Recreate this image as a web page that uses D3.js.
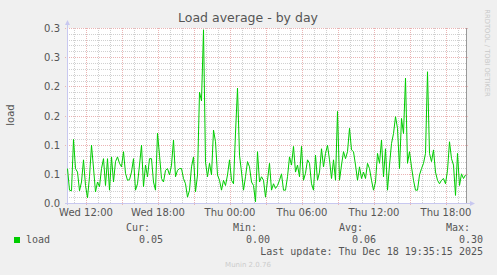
<!DOCTYPE html>
<html>
<head>
<meta charset="utf-8">
<script src="https://cdn.jsdelivr.net/npm/d3@7"></script>
<style>
body { margin: 0; background: #f0f0f0; }
svg text { font-family: "DejaVu Sans", sans-serif; }
.mono { font-family: "DejaVu Sans Mono", monospace !important; }
</style>
</head>
<body>
<div id="graph"></div>
<script>
// load average samples, one every 10 minutes starting Wed 17 Dec 10:25
var startTime = new Date(2025, 11, 17, 10, 25)
var stepMinutes = 10
var loadValues = [
    .059, .022, .021, .109, .059, .053, .021, .036, .074, .030,
    .009, .045, .099, .060, .019, .036, .028, .059, .076, .030,
    .076, .022, .079, .036, .071, .079, .068, .062, .088, .051,
    .039, .040, .053, .076, .022, .033, .065, .099, .028, .065,
    .045, .076, .076, .036, .022, .120, .082, .042, .036, .056,
    .059, .048, .065, .108, .045, .056, .059, .059, .042, .033,
    .010, .022, .062, .079, .019, .048, .190, .175, .297, .070,
    .045, .068, .048, .125, .105, .048, .039, .022, .039, .030,
    .048, .074, .039, .033, .120, .197, .082, .053, .022, .045,
    .071, .062, .036, .030, .002, .088, .036, .045, .039, .010,
    .039, .068, .022, .033, .025, .030, .039, .050, .022, .022,
    .045, .079, .065, .097, .053, .065, .045, .097, .039, .051,
    .074, .068, .033, .022, .082, .039, .053, .093, .062, .085,
    .099, .074, .042, .074, .039, .157, .039, .065, .088, .076,
    .088, .128, .091, .088, .065, .039, .062, .042, .053, .042,
    .068, .059, .039, .022, .036, .085, .068, .108, .045, .093,
    .022, .065, .102, .119, .148, .128, .059, .145, .119, .214,
    .068, .088, .062, .039, .022, .022, .048, .059, .068, .085,
    .225, .085, .071, .091, .053, .039, .033, .039, .042, .033,
    .056, .105, .076, .065, .013, .085, .030, .050, .042, .048
]

var yTickValues = [0, 0.05, 0.1, 0.15, 0.2, 0.25, 0.3]
var yTickLabels = ["0.0", "0.1", "0.1", "0.2", "0.2", "0.3", "0.3"]
var legendHeads = ["Cur:", "Min:", "Avg:", "Max:"]
var legendValues = ["0.05", "0.00", "0.06", "0.30"]
var lastUpdate = "Last update: Thu Dec 18 19:35:15 2025"

var plotLeft = 67, plotTop = 28, plotW = 400, plotH = 175
var endTime = d3.timeMinute.offset(startTime, 2000)

var x = d3.scaleTime().domain([startTime, endTime]).range([plotLeft, plotLeft + plotW])
var y = d3.scaleLinear().domain([0, 0.3]).range([plotTop + plotH, plotTop])

var svg = d3.select("#graph").append("svg").attr("width", 497).attr("height", 275)
svg.append("rect").attr("width", 497).attr("height", 275).attr("fill", "#f0f0f0")
svg.append("rect").attr("x", plotLeft).attr("y", plotTop).attr("width", 399).attr("height", plotH).attr("fill", "#fff")

// minor grid
var minorY = d3.range(0, 0.3001, 0.01)
svg.selectAll(".gy").data(minorY).enter().append("line")
    .attr("x1", plotLeft).attr("x2", plotLeft + 399)
    .attr("y1", d => Math.round(y(d)) + 0.5).attr("y2", d => Math.round(y(d)) + 0.5)
    .attr("stroke", "#d0d0d0").attr("stroke-dasharray", "1,1")
var minorX = d3.timeHour.range(startTime, endTime)
svg.selectAll(".gx").data(minorX).enter().append("line")
    .attr("x1", d => Math.round(x(d)) + 0.5).attr("x2", d => Math.round(x(d)) + 0.5)
    .attr("y1", plotTop).attr("y2", plotTop + plotH)
    .attr("stroke", "#d0d0d0").attr("stroke-dasharray", "1,1")

// major grid
svg.selectAll(".my").data(yTickValues).enter().append("line")
    .attr("x1", plotLeft - 2).attr("x2", plotLeft + 401)
    .attr("y1", d => Math.round(y(d)) + 0.5).attr("y2", d => Math.round(y(d)) + 0.5)
    .attr("stroke", "#eab4b4").attr("stroke-dasharray", "1,1")
var majorX = d3.timeHour.every(3).range(startTime, endTime)
svg.selectAll(".mx").data(majorX).enter().append("line")
    .attr("x1", d => Math.round(x(d)) + 0.5).attr("x2", d => Math.round(x(d)) + 0.5)
    .attr("y1", plotTop).attr("y2", plotTop + plotH + 2)
    .attr("stroke", "#eab4b4").attr("stroke-dasharray", "1,1")

// axes
var axisColor = "#c8c8f0"
svg.append("line").attr("x1", plotLeft + 0.5).attr("x2", plotLeft + 0.5).attr("y1", plotTop - 4).attr("y2", plotTop + plotH + 2)
    .attr("stroke", axisColor)
svg.append("path").attr("d", `M${plotLeft - 2},${plotTop - 3}L${plotLeft + 3},${plotTop - 3}L${plotLeft + 0.5},${plotTop - 8}Z`).attr("fill", axisColor)
svg.append("line").attr("x1", plotLeft - 2).attr("x2", plotLeft + 404).attr("y1", plotTop + plotH + 0.5).attr("y2", plotTop + plotH + 0.5)
    .attr("stroke", axisColor)
svg.append("path").attr("d", `M${plotLeft + 403},${plotTop + plotH - 2}L${plotLeft + 403},${plotTop + plotH + 3}L${plotLeft + 408},${plotTop + plotH + 0.5}Z`).attr("fill", axisColor)
svg.append("line").attr("x1", plotLeft + 399.5).attr("x2", plotLeft + 399.5).attr("y1", plotTop).attr("y2", plotTop + plotH)
    .attr("stroke", "#999")

// load line
var line = d3.line()
    .x((d, i) => x(d3.timeMinute.offset(startTime, i * stepMinutes)) + 0.5)
    .y(d => y(d))
svg.append("path").datum(loadValues).attr("d", line)
    .attr("fill", "none").attr("stroke", "#00cc00").attr("stroke-width", 1)

// tick labels
svg.append("g").selectAll("text").data(yTickValues).enter().append("text")
    .attr("x", plotLeft - 7).attr("y", d => y(d) + 4)
    .attr("text-anchor", "end").attr("font-size", 10).attr("fill", "#555")
    .text((d, i) => yTickLabels[i])
var fmt = d3.timeFormat("%a %H:%M")
svg.append("g").selectAll("text").data(d3.timeHour.every(6).range(startTime, endTime)).enter().append("text")
    .attr("x", d => x(d)).attr("y", 216)
    .attr("text-anchor", "middle").attr("font-size", 10).attr("fill", "#555")
    .text(d => fmt(d))

// titles
svg.append("text").attr("x", 248).attr("y", 22).attr("text-anchor", "middle")
    .attr("font-size", 12.5).attr("fill", "#555").text("Load average - by day")
svg.append("text").attr("transform", "translate(14,115) rotate(-90)").attr("text-anchor", "middle")
    .attr("font-size", 10).attr("fill", "#555").text("load")
svg.append("text").attr("transform", "translate(485,53) rotate(90)").attr("text-anchor", "middle")
    .attr("font-size", 6.8).attr("fill", "#c8c8c8").text("RRDTOOL / TOBI OETIKER")

// legend
svg.append("rect").attr("x", 14).attr("y", 237).attr("width", 6).attr("height", 6).attr("fill", "#00cc00")
svg.append("text").attr("class", "mono").attr("x", 26).attr("y", 243).attr("font-size", 10).attr("fill", "#555").text("load")
var headEnds = [150, 257, 363, 470]
legendHeads.forEach(function (h, i) {
    svg.append("text").attr("class", "mono").attr("x", headEnds[i]).attr("y", 231).attr("text-anchor", "end")
        .attr("font-size", 10).attr("fill", "#555").text(h)
    svg.append("text").attr("class", "mono").attr("x", headEnds[i] + 13).attr("y", 243).attr("text-anchor", "end")
        .attr("font-size", 10).attr("fill", "#555").text(legendValues[i])
})
svg.append("text").attr("class", "mono").attr("x", 483).attr("y", 255).attr("text-anchor", "end")
    .attr("font-size", 10).attr("fill", "#555").text(lastUpdate)
svg.append("text").attr("x", 248).attr("y", 267).attr("text-anchor", "middle")
    .attr("font-size", 7).attr("fill", "#ccc").text("Munin 2.0.76")
</script>
</body>
</html>
